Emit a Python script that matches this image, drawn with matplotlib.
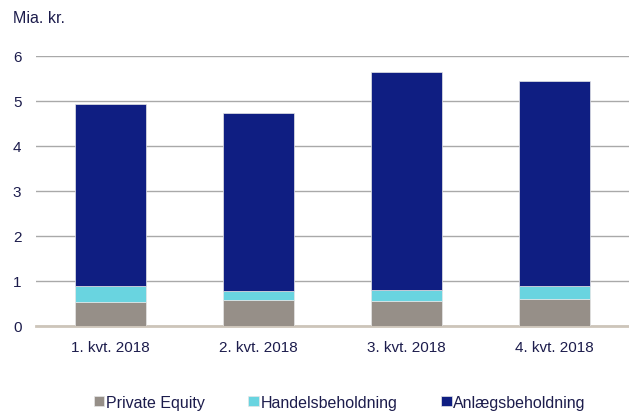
import matplotlib
matplotlib.use("Agg")
import matplotlib.pyplot as plt
import numpy as np

quarters = ["1. kvt. 2018", "2. kvt. 2018", "3. kvt. 2018", "4. kvt. 2018"]
private_equity = [0.53, 0.56, 0.55, 0.59]
handels = [0.35, 0.22, 0.25, 0.29]
anlaeg = [4.05, 3.95, 4.84, 4.56]

plt.rcParams['font.family'] = ['Liberation Sans', 'DejaVu Sans']
txt = "#1c1c4c"

fig = plt.figure(figsize=(6.29, 4.14), dpi=100)
ax = fig.add_axes([0.0572, 0.2109, 0.9428, 0.652])

x = np.arange(len(quarters))
w = 0.48
b1 = ax.bar(x, private_equity, w, color="#968f88", edgecolor="#e6e6e6", linewidth=0.5,
            label="Private Equity", zorder=3)
bottom2 = np.array(private_equity)
b2 = ax.bar(x, handels, w, bottom=bottom2, color="#69d4e0", edgecolor="#e6e6e6", linewidth=0.5,
            label="Handelsbeholdning", zorder=3)
bottom3 = bottom2 + np.array(handels)
b3 = ax.bar(x, anlaeg, w, bottom=bottom3, color="#0f1e82", edgecolor="#e6e6e6", linewidth=0.5,
            label="Anlægsbeholdning", zorder=3)

ax.set_xlim(-0.5, 3.5)
ax.set_ylim(0, 6)
ax.set_yticks(range(7))
ax.yaxis.grid(True, color="#a9a9a9", linewidth=1)
ax.set_axisbelow(True)
for s in ["top", "right", "left"]:
    ax.spines[s].set_visible(False)
ax.spines["bottom"].set_color("#cdc5ba")
ax.spines["bottom"].set_linewidth(2)
ax.tick_params(length=0, labelsize=11, colors=txt)
ax.tick_params(axis="y", pad=10.5)
ax.tick_params(axis="x", pad=10)
ax.set_xticks(x)
ax.set_xticklabels(quarters)

fig.text(0.02, 0.955, "Mia. kr.", fontsize=11.5, color=txt, va="center")

leg = fig.legend(handles=[b1, b2, b3], loc="center", bbox_to_anchor=(0.54, 0.026), ncol=3,
                 frameon=False, fontsize=11.5, handlelength=0.65, handleheight=0.65,
                 handletextpad=0.1, columnspacing=2.75, labelcolor=txt)

fig.savefig("out.png", dpi=100)
